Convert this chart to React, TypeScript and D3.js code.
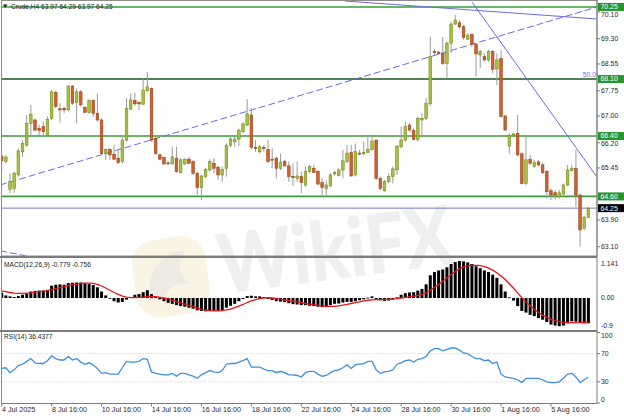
import React from "react";
import * as d3 from "d3";

const WIDTH = 624;
const HEIGHT = 416;

// Crude H4 candles, 4 Jul – 7 Aug 2025
const opens = [
  65.80, 65.64, 64.81, 64.84, 65.24, 65.93, 66.13, 66.78, 66.88, 66.63,
  66.68, 66.43, 66.93, 67.70, 67.21, 67.23, 67.18, 67.89, 67.40, 67.72,
  67.26, 67.10, 67.46, 67.08, 66.88, 65.87, 66.00, 65.86, 65.74, 65.64,
  66.28, 67.20, 67.46, 67.41, 67.35, 67.75, 67.82, 66.33, 65.84, 65.76,
  65.60, 65.57, 65.74, 65.31, 65.57, 65.71, 65.64, 65.29, 64.86, 65.19,
  65.39, 65.59, 65.47, 65.24, 65.44, 66.13, 66.23, 66.31, 66.53, 66.73,
  67.03, 66.06, 65.93, 66.06, 66.00, 65.71, 65.74, 65.44, 65.64, 65.51,
  65.19, 65.14, 65.19, 64.94, 65.34, 65.44, 65.34, 65.01, 64.84, 64.91,
  65.27, 65.22, 65.39, 65.64, 65.91, 65.24, 65.89, 65.87, 65.91, 66.00,
  66.28, 65.14, 64.77, 65.04, 65.19, 65.39, 66.08, 66.28, 66.73, 66.56,
  66.30, 66.88, 66.93, 67.36, 68.92, 68.90, 68.87, 68.57, 69.17, 69.74,
  69.78, 69.66, 69.29, 69.43, 69.14, 68.82, 68.77, 68.67, 68.92, 68.40,
  68.72, 67.00, 66.10, 66.45, 66.48, 65.87, 64.99, 65.71, 65.49, 65.63,
  65.54, 65.34, 64.77, 64.71, 64.59, 64.67, 64.94, 65.37, 65.44, 64.64,
  63.65, 63.97,
];
const highs = [
  65.84, 65.84, 65.29, 65.34, 66.03, 66.28, 67.03, 67.33, 66.93, 66.73,
  66.83, 66.98, 67.77, 67.75, 67.38, 67.28, 67.92, 67.92, 67.82, 67.77,
  67.28, 67.50, 67.50, 67.67, 66.93, 66.03, 66.03, 66.13, 66.03, 66.43,
  67.53, 67.67, 67.69, 67.43, 68.12, 68.32, 67.85, 66.38, 65.88, 65.78,
  65.66, 66.08, 66.08, 65.74, 65.74, 65.78, 65.69, 65.34, 65.24, 65.44,
  65.71, 65.74, 65.51, 65.49, 66.18, 66.38, 66.38, 66.63, 66.83, 67.50,
  67.23, 66.28, 66.13, 66.13, 66.28, 66.03, 65.78, 65.88, 65.69, 65.64,
  65.59, 65.64, 65.34, 65.49, 65.54, 65.54, 65.39, 65.14, 65.09, 65.29,
  65.36, 65.44, 65.99, 66.13, 66.13, 66.18, 65.99, 66.23, 66.43, 66.38,
  66.30, 65.19, 65.09, 65.29, 65.49, 66.13, 66.68, 66.83, 66.78, 66.63,
  66.98, 67.08, 67.53, 69.36, 68.99, 68.95, 69.36, 69.22, 69.81, 70.01,
  69.86, 69.71, 69.46, 69.46, 69.17, 68.97, 68.87, 68.97, 68.97, 68.87,
  68.97, 67.03, 66.48, 66.50, 67.03, 65.91, 66.38, 65.84, 65.69, 65.69,
  65.61, 65.39, 64.84, 64.79, 64.79, 64.99, 65.54, 65.54, 65.99, 64.69,
  64.02, 64.29,
];
const lows = [
  65.33, 65.59, 64.69, 64.71, 65.19, 65.78, 66.08, 66.43, 66.53, 66.40,
  66.38, 66.38, 66.88, 67.23, 66.80, 67.08, 67.13, 67.33, 66.78, 67.28,
  67.08, 67.06, 66.98, 66.83, 65.84, 65.69, 65.69, 65.69, 65.57, 65.59,
  66.23, 67.18, 67.30, 67.18, 67.33, 67.72, 66.23, 65.84, 65.69, 65.54,
  65.54, 65.54, 65.31, 65.29, 65.54, 65.57, 65.24, 64.64, 64.49, 65.14,
  65.34, 65.29, 65.09, 65.04, 65.19, 66.06, 66.08, 66.10, 66.48, 66.70,
  66.00, 65.93, 65.88, 65.93, 65.59, 65.44, 65.14, 65.39, 65.49, 65.04,
  64.91, 65.04, 64.69, 64.89, 65.29, 65.29, 64.94, 64.64, 64.59, 64.89,
  65.22, 65.19, 65.14, 65.59, 65.19, 65.19, 65.84, 65.84, 65.89, 65.97,
  65.09, 64.79, 64.74, 64.99, 64.99, 65.24, 66.03, 66.23, 66.53, 66.28,
  66.23, 66.36, 66.88, 67.30, 68.82, 68.82, 68.52, 68.12, 68.87, 69.71,
  69.61, 69.28, 69.27, 69.07, 68.17, 68.42, 68.62, 68.62, 68.27, 67.92,
  66.96, 66.56, 65.87, 66.42, 65.79, 64.97, 64.94, 65.54, 65.44, 65.49,
  65.27, 64.54, 64.49, 64.51, 64.54, 64.64, 64.91, 65.34, 64.29, 63.10,
  63.60, 63.97,
];
const closes = [
  65.66, 65.77, 65.04, 65.29, 65.96, 66.18, 66.78, 67.05, 66.58, 66.56,
  66.53, 66.90, 67.72, 67.28, 67.20, 67.18, 67.89, 67.38, 67.72, 67.33,
  67.11, 67.46, 67.08, 66.88, 65.88, 66.00, 65.84, 65.71, 65.61, 66.28,
  67.23, 67.48, 67.36, 67.36, 67.77, 67.87, 66.28, 65.88, 65.71, 65.57,
  65.58, 65.78, 65.34, 65.69, 65.71, 65.59, 65.29, 64.86, 65.21, 65.41,
  65.64, 65.44, 65.24, 65.41, 66.13, 66.31, 66.31, 66.56, 66.76, 67.06,
  66.06, 66.05, 66.08, 66.03, 65.64, 65.70, 65.44, 65.61, 65.51, 65.19,
  65.18, 65.21, 65.01, 65.34, 65.49, 65.31, 64.97, 64.87, 64.94, 65.24,
  65.32, 65.39, 65.66, 65.89, 65.21, 65.94, 65.88, 65.91, 66.00, 66.25,
  65.14, 64.84, 65.04, 65.19, 65.42, 66.10, 66.28, 66.68, 66.58, 66.30,
  66.93, 66.93, 67.38, 68.77, 68.91, 68.86, 68.57, 69.17, 69.74, 69.86,
  69.66, 69.34, 69.41, 69.14, 68.85, 68.92, 68.67, 68.92, 68.39, 68.67,
  66.98, 66.58, 66.43, 66.46, 65.84, 64.99, 65.69, 65.59, 65.61, 65.54,
  65.31, 64.74, 64.64, 64.64, 64.71, 64.94, 65.39, 65.44, 64.64, 63.60,
  63.98, 64.25,
];

// MACD(12,26,9): histogram (main) and signal line
const macdMain = [
  0.16, 0.08, 0.05, 0.03, 0.06, 0.10, 0.14, 0.20, 0.22, 0.23,
  0.23, 0.25, 0.38, 0.41, 0.42, 0.41, 0.46, 0.47, 0.48, 0.48,
  0.45, 0.43, 0.40, 0.33, 0.20, 0.08, -0.02, -0.10, -0.14, -0.12,
  -0.05, 0.03, 0.10, 0.12, 0.18, 0.24, 0.12, 0.03, -0.04, -0.10,
  -0.15, -0.18, -0.22, -0.25, -0.27, -0.30, -0.33, -0.38, -0.40, -0.41,
  -0.40, -0.40, -0.40, -0.38, -0.30, -0.24, -0.18, -0.10, -0.03, 0.06,
  0.07, 0.05, 0.05, 0.03, -0.03, -0.06, -0.10, -0.11, -0.13, -0.16,
  -0.19, -0.20, -0.22, -0.22, -0.24, -0.25, -0.27, -0.28, -0.28, -0.22,
  -0.18, -0.17, -0.14, -0.12, -0.12, -0.10, -0.07, -0.04, 0.01, 0.05,
  -0.03, -0.07, -0.09, -0.08, -0.05, 0.02, 0.10, 0.15, 0.17, 0.18,
  0.23, 0.28, 0.42, 0.70, 0.80, 0.85, 0.88, 0.95, 1.05, 1.11,
  1.141, 1.13, 1.10, 1.05, 0.98, 0.92, 0.85, 0.80, 0.72, 0.62,
  0.42, 0.20, 0.02, -0.08, -0.25, -0.40, -0.45, -0.52, -0.56, -0.62,
  -0.67, -0.74, -0.82, -0.85, -0.87, -0.85, -0.78, -0.72, -0.73, -0.76,
  -0.78, -0.779,
];
const macdSignal = [
  0.22, 0.20, 0.17, 0.15, 0.14, 0.14, 0.15, 0.16, 0.18, 0.20,
  0.21, 0.23, 0.26, 0.29, 0.32, 0.35, 0.38, 0.41, 0.43, 0.45,
  0.46, 0.46, 0.45, 0.42, 0.37, 0.31, 0.24, 0.17, 0.11, 0.06,
  0.03, 0.01, 0.01, 0.02, 0.03, 0.05, 0.05, 0.04, 0.02, 0.00,
  -0.03, -0.07, -0.11, -0.15, -0.19, -0.23, -0.27, -0.31, -0.35, -0.37,
  -0.39, -0.40, -0.40, -0.39, -0.37, -0.34, -0.30, -0.25, -0.20, -0.14,
  -0.09, -0.05, -0.02, 0.00, 0.01, 0.00, -0.02, -0.04, -0.06, -0.08,
  -0.10, -0.12, -0.14, -0.17, -0.19, -0.21, -0.23, -0.25, -0.26, -0.26,
  -0.26, -0.24, -0.22, -0.20, -0.17, -0.14, -0.12, -0.09, -0.07, -0.06,
  -0.05, -0.05, -0.04, -0.04, -0.03, -0.02, 0.00, 0.02, 0.04, 0.06,
  0.08, 0.11, 0.16, 0.24, 0.33, 0.42, 0.52, 0.62, 0.72, 0.82,
  0.90, 0.96, 0.99, 1.01, 1.01, 1.00, 0.97, 0.92, 0.86, 0.78,
  0.68, 0.57, 0.44, 0.30, 0.16, 0.01, -0.12, -0.24, -0.35, -0.45,
  -0.53, -0.60, -0.66, -0.70, -0.73, -0.75, -0.76, -0.76, -0.76, -0.76,
  -0.756, -0.756,
];

// RSI(14)
const rsiValues = [
  49, 50, 43, 47, 53, 55, 59, 63, 57, 56,
  56, 60, 67, 63, 61, 61, 66, 61, 63, 58,
  55, 57, 54, 49, 42, 43, 41, 41, 41, 50,
  59, 58, 58, 59, 63, 62, 44, 42, 41, 40,
  40, 42, 38, 42, 42, 40, 38, 35, 40, 43,
  46, 44, 43, 46, 55, 56, 56, 58, 60, 63,
  51, 51, 51, 48, 46, 46, 43, 45, 43, 40,
  40, 39, 37, 43, 45, 45, 41, 38, 39, 43,
  46, 47, 50, 54, 49, 54, 55, 56, 59, 59,
  47, 42, 44, 45, 47, 55, 57, 60, 61, 58,
  62, 63, 66, 74, 77, 77, 74, 76, 78, 78,
  75, 71, 70, 66, 63, 63, 60, 61, 56, 58,
  41, 37, 36, 35, 33, 29, 35, 35, 35, 35,
  33, 30, 29, 29, 30, 35, 41, 42, 37, 29,
  33, 36.4377,
];

const timeLabels = [
  "4 Jul 2025", "8 Jul 16:00", "10 Jul 16:00", "14 Jul 16:00", "16 Jul 16:00", "18 Jul 16:00",
  "22 Jul 16:00", "24 Jul 16:00", "28 Jul 16:00", "30 Jul 16:00", "1 Aug 16:00", "5 Aug 16:00",
];
const timeLabelBars = [0, 12, 24, 36, 48, 60, 72, 84, 96, 108, 120, 132];

const priceTicks = [70.1, 69.3, 68.55, 67.75, 67.0, 66.2, 65.45, 63.9, 63.1];
const macdTicks = [1.141, 0, -0.9];
const macdTickText = ["1.141", "0.00", "-0.9"];
const rsiTicks = [100, 70, 30, 0];
const rsiLevels = [70, 30];

// support / resistance levels
const levelPrices = [70.25, 68.1, 66.4, 64.6];
const levelIsFib = [false, true, false, false];
const lastPrice = 64.25;
const fibLabel = "50.0";

// trend lines as [bar, price] pairs
const risingChannel: [number, number][] = [[-0.41, 64.94], [143.07, 70.25]];
const lowerChannel: [number, number][] = [[-0.41, 62.981], [8, 62.772]];
const topTrend: [number, number][] = [[82.5, 70.428], [143.07, 69.891]];
const steepTrend: [number, number][] = [[113.0, 70.398], [143.07, 65.179]];

const symbolTitle = "Crude,H4  63.97 64.29 63.97 64.25";
const macdTitle = "MACD(12,26,9) -0.779 -0.756";
const rsiTitle = "RSI(14) 36.4377";

// layout
const LEFT = 1.5;
const RIGHT = 597;
const MAIN_TOP = 1;
const MAIN_BOTTOM = 256;
const MACD_TOP = 258;
const MACD_BOTTOM = 330;
const RSI_TOP = 332;
const RSI_BOTTOM = 403;
const BOX_H = 8;

const FONT = "'Liberation Sans', Arial, sans-serif";
const AXIS_TEXT = "#2a2a2a";
const FRAME = "#8c8c8c";
const TREND = "#6a6ade";
const BULL_FILL = "#a8c33c";
const BULL_EDGE = "#6f8a22";
const BEAR_FILL = "#d0622d";
const BEAR_EDGE = "#96401a";
const WICK = "#9c9c9c";

export default function App() {
  const n = closes.length;
  const xScale = d3.scaleLinear().domain([0, n - 1]).range([1.7, 588.4]);
  const priceScale = d3.scaleLinear().domain([62.823, 70.428]).range([MAIN_BOTTOM, MAIN_TOP]);
  const macdScale = d3.scaleLinear().domain([-0.988, 1.235]).range([MACD_BOTTOM, MACD_TOP]);
  const rsiScale = d3.scaleLinear().domain([0, 100]).range([RSI_BOTTOM, 332.5]);

  const trendPath = (pts: [number, number][]) =>
    d3.line<[number, number]>().x((d) => xScale(d[0])).y((d) => priceScale(d[1]))(pts) || "";

  const signalPath =
    d3.line<number>().x((_, i) => xScale(i)).y((v) => macdScale(v))(macdSignal) || "";
  const rsiPath =
    d3.line<number>().x((_, i) => xScale(i)).y((v) => rsiScale(v))(rsiValues) || "";

  const clampY = (y: number, lo: number, hi: number) => Math.max(lo, Math.min(hi, y));

  // keep ordinary price labels clear of the boxed level labels
  const boxedYs = [...levelPrices, lastPrice].map((p) => priceScale(p));
  const tickLabelY = (p: number) => {
    let y = priceScale(p);
    for (const by of boxedYs) {
      const gap = y - by;
      if (Math.abs(gap) < 7.5) y = by + (gap >= 0 ? 7.5 : -7.5);
    }
    return y;
  };

  return (
    <div style={{ position: "absolute", left: 0, top: 0 }}>
      <svg width={WIDTH} height={HEIGHT} style={{ display: "block", background: "#fff" }}>
        <defs>
          <clipPath id="clipMain">
            <rect x={LEFT} y={MAIN_TOP} width={RIGHT - LEFT} height={MAIN_BOTTOM - MAIN_TOP} />
          </clipPath>
          <clipPath id="clipMacd">
            <rect x={LEFT} y={MACD_TOP} width={RIGHT - LEFT} height={MACD_BOTTOM - MACD_TOP} />
          </clipPath>
          <clipPath id="clipRsi">
            <rect x={LEFT} y={RSI_TOP} width={RIGHT - LEFT} height={RSI_BOTTOM - RSI_TOP} />
          </clipPath>
        </defs>

        <rect x={0} y={0} width={WIDTH} height={HEIGHT} fill="#ffffff" />

        {/* brand watermark */}
        <g opacity={0.5}>
          <rect x={134} y={238} width={74} height={78} rx={24} fill="#f4e3b4" opacity={0.7}
            transform="rotate(-8 171 277)" />
          <path d="M150,300 C146,272 160,252 186,250 C176,262 178,276 190,284 C178,282 166,288 160,302 Z"
            fill="#c9c9c9" opacity={0.55} />
          <text x={222} y={294} transform="rotate(-7.5 222 294)" fontFamily="Lato, 'Open Sans', sans-serif"
            fontWeight={900} fontSize={82} textLength={236} lengthAdjust="spacingAndGlyphs"
            fill="#bdbdbd" opacity={0.45}>WikiFX</text>
        </g>

        {/* main price panel */}
        <g clipPath="url(#clipMain)">
          {levelPrices.map((p, i) => (
            <line key={`lv${i}`} x1={LEFT} x2={RIGHT} y1={priceScale(p)} y2={priceScale(p)}
              stroke={levelIsFib[i] ? "#14591c" : "#3a9c3a"} strokeWidth={1.6} />
          ))}
          <line x1={LEFT} x2={RIGHT} y1={priceScale(lastPrice)} y2={priceScale(lastPrice)}
            stroke="#7a7ac8" strokeWidth={1} />
          <path d={trendPath(risingChannel)} stroke={TREND} strokeWidth={1} strokeDasharray="7,3" fill="none" />
          <path d={trendPath(lowerChannel)} stroke={TREND} strokeWidth={1} strokeDasharray="7,3" fill="none" />
          <path d={trendPath(topTrend)} stroke={TREND} strokeWidth={1} fill="none" />
          <path d={trendPath(steepTrend)} stroke={TREND} strokeWidth={1} fill="none" />

          {closes.map((c, i) => {
            const o = opens[i];
            const x = xScale(i);
            const bull = c >= o;
            const yTop = priceScale(Math.max(o, c));
            const yBot = priceScale(Math.min(o, c));
            const h = Math.max(1, yBot - yTop);
            return (
              <g key={`c${i}`}>
                <line x1={x} x2={x} y1={priceScale(highs[i])} y2={priceScale(lows[i])}
                  stroke={WICK} strokeWidth={1} />
                <rect x={x - 1.3} y={yTop} width={2.6} height={h}
                  fill={bull ? BULL_FILL : BEAR_FILL} stroke={bull ? BULL_EDGE : BEAR_EDGE}
                  strokeWidth={0.6} />
              </g>
            );
          })}
        </g>

        <text x={RIGHT - 1} y={priceScale(levelPrices[1]) - 2.5} textAnchor="end" fontFamily={FONT}
          fontSize={6.8} fill="#6b6bd0">{fibLabel}</text>

        {/* symbol title */}
        <path d="M3,4.5 L7.5,4.5 L5.25,7.5 Z" fill="#111" />
        <text x={11} y={8.5} fontFamily={FONT} fontSize={6.6} fill="#222">{symbolTitle}</text>

        {/* MACD panel */}
        <g clipPath="url(#clipMacd)">
          {macdMain.map((v, i) => {
            const x = xScale(i);
            const y0 = macdScale(0);
            const y1 = macdScale(v);
            return (
              <rect key={`m${i}`} x={x - 1.5} y={Math.min(y0, y1)} width={3}
                height={Math.max(0.8, Math.abs(y1 - y0))} fill="#000" />
            );
          })}
          <path d={signalPath} stroke="#e8141a" strokeWidth={1.3} fill="none" />
        </g>
        <text x={4} y={266.5} fontFamily={FONT} fontSize={6.6} fill="#222">{macdTitle}</text>

        {/* RSI panel */}
        <g clipPath="url(#clipRsi)">
          {rsiLevels.map((lv) => (
            <line key={`rl${lv}`} x1={LEFT} x2={RIGHT} y1={rsiScale(lv)} y2={rsiScale(lv)}
              stroke="#c4c4c4" strokeWidth={1} strokeDasharray="1,2" />
          ))}
          <path d={rsiPath} stroke="#3f90de" strokeWidth={1.3} fill="none" />
        </g>
        <text x={4} y={339} fontFamily={FONT} fontSize={6.6} fill="#222">{rsiTitle}</text>

        {/* frames */}
        <rect x={LEFT} y={0.5} width={RIGHT - LEFT} height={MAIN_BOTTOM - 0.5} fill="none" stroke={FRAME} strokeWidth={1} />
        <line x1={0} x2={RIGHT} y1={257} y2={257} stroke="#7c7c7c" strokeWidth={2} />
        <line x1={LEFT} x2={LEFT} y1={MACD_TOP} y2={MACD_BOTTOM} stroke={FRAME} strokeWidth={1} />
        <line x1={0} x2={RIGHT} y1={331} y2={331} stroke="#7c7c7c" strokeWidth={2} />
        <line x1={LEFT} x2={LEFT} y1={RSI_TOP} y2={RSI_BOTTOM} stroke={FRAME} strokeWidth={1} />
        <line x1={LEFT} x2={RIGHT} y1={RSI_BOTTOM + 0.5} y2={RSI_BOTTOM + 0.5} stroke="#7c7c7c" strokeWidth={1} />
        <line x1={RIGHT} x2={RIGHT} y1={0} y2={RSI_BOTTOM + 1} stroke="#7c7c7c" strokeWidth={1} />

        {/* price axis */}
        {priceTicks.map((p) => (
          <g key={`pt${p}`}>
            <line x1={RIGHT} x2={RIGHT + 3} y1={priceScale(p)} y2={priceScale(p)} stroke="#7c7c7c" />
            <text x={601} y={tickLabelY(p)} dy="0.35em" fontFamily={FONT} fontSize={6.9} fill={AXIS_TEXT}>
              {p.toFixed(2)}
            </text>
          </g>
        ))}
        {levelPrices.map((p) => (
          <g key={`lb${p}`}>
            <rect x={598} y={priceScale(p) - BOX_H / 2} width={26} height={BOX_H} fill="#27952a" />
            <text x={600.5} y={priceScale(p)} dy="0.35em" fontFamily={FONT} fontSize={6.9} fill="#fff">
              {p.toFixed(2)}
            </text>
          </g>
        ))}
        <rect x={598} y={priceScale(lastPrice) - BOX_H / 2} width={26} height={BOX_H} fill="#000" />
        <text x={600.5} y={priceScale(lastPrice)} dy="0.35em" fontFamily={FONT} fontSize={6.9} fill="#fff">
          {lastPrice.toFixed(2)}
        </text>

        {/* MACD axis */}
        {macdTicks.map((v, i) => (
          <text key={`mt${i}`} x={601} y={clampY(macdScale(v), 264, 326)} dy="0.35em"
            fontFamily={FONT} fontSize={6.9} fill={AXIS_TEXT}>{macdTickText[i]}</text>
        ))}

        {/* RSI axis */}
        {rsiTicks.map((v) => (
          <g key={`rt${v}`}>
            <line x1={RIGHT} x2={RIGHT + 3} y1={rsiScale(v)} y2={rsiScale(v)} stroke="#7c7c7c" />
            <text x={601} y={clampY(rsiScale(v), 336, 399.7)} dy="0.35em"
              fontFamily={FONT} fontSize={6.9} fill={AXIS_TEXT}>{v}</text>
          </g>
        ))}

        {/* time axis */}
        {timeLabelBars.map((b, i) => (
          <g key={`tl${i}`}>
            <line x1={xScale(b)} x2={xScale(b)} y1={RSI_BOTTOM} y2={RSI_BOTTOM + 3.5} stroke="#7c7c7c" />
            <text x={xScale(b) + 0.3} y={412} fontFamily={FONT} fontSize={7.2} fill={AXIS_TEXT}>
              {timeLabels[i]}
            </text>
          </g>
        ))}
      </svg>
    </div>
  );
}
